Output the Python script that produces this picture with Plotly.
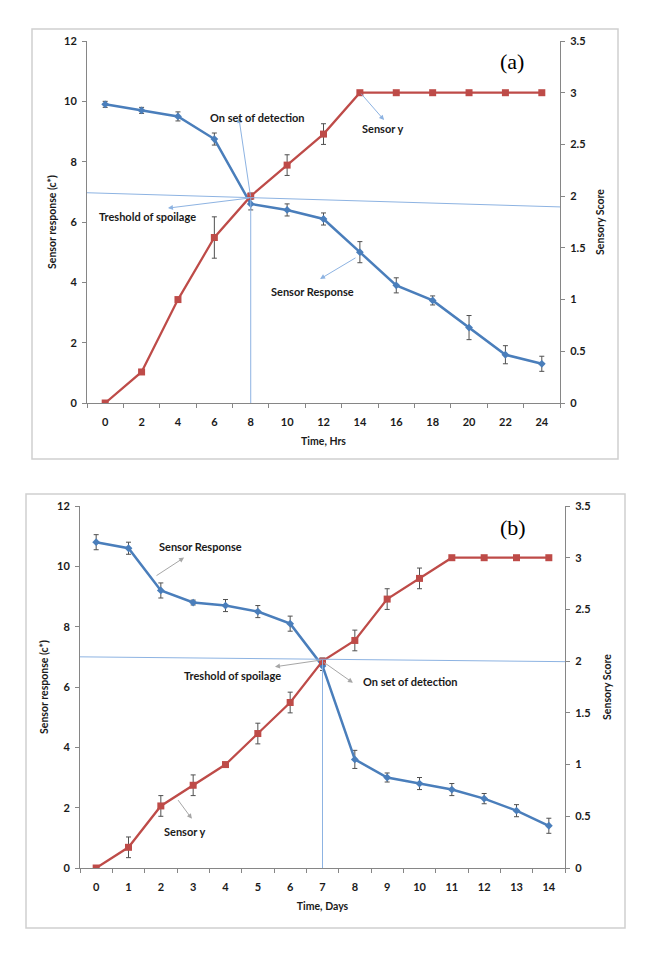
import plotly.graph_objects as go

# ---------------- data ----------------
hours = [0, 2, 4, 6, 8, 10, 12, 14, 16, 18, 20, 22, 24]
resp_a = [9.9, 9.7, 9.5, 8.75, 6.6, 6.4, 6.1, 5.0, 3.9, 3.4, 2.5, 1.6, 1.3]
resp_a_err = [0.1, 0.1, 0.15, 0.2, 0.2, 0.2, 0.2, 0.35, 0.25, 0.15, 0.4, 0.3, 0.25]
score_a = [0, 0.3, 1.0, 1.6, 2.0, 2.3, 2.6, 3.0, 3.0, 3.0, 3.0, 3.0, 3.0]
score_a_err = [0, 0, 0, 0.2, 0.03, 0.1, 0.1, 0, 0, 0, 0, 0, 0]

days = list(range(15))
resp_b = [10.8, 10.6, 9.2, 8.8, 8.7, 8.5, 8.1, 6.7, 3.6, 3.0, 2.8, 2.6, 2.3, 1.9, 1.4]
resp_b_err = [0.25, 0.2, 0.25, 0.08, 0.2, 0.2, 0.25, 0.15, 0.3, 0.15, 0.2, 0.2, 0.17, 0.2, 0.25]
score_b = [0, 0.2, 0.6, 0.8, 1.0, 1.3, 1.6, 2.0, 2.2, 2.6, 2.8, 3.0, 3.0, 3.0, 3.0]
score_b_err = [0, 0.1, 0.1, 0.1, 0, 0.1, 0.1, 0.03, 0.1, 0.1, 0.1, 0, 0, 0, 0]

# threshold guide lines (x from, x to, y from, y to in sensor-response units)
thr_a = [-1, 25, 6.97, 6.5]
thr_b = [-0.5, 14.5, 7.0, 6.84]
onset_a = [8, 6.8]
onset_b = [7, 6.9]

BLUE = "#4A7EBB"
RED = "#BE4B48"
ERR = "#505050"
GRID = "#868686"
FONT = "Lato"

fig = go.Figure()

def add_pair(x, resp, resp_err, score, score_err, xa, ya_l, ya_r):
    fig.add_trace(go.Scatter(
        x=x, y=resp, xaxis=xa, yaxis=ya_l, mode="lines+markers",
        line=dict(color=BLUE, width=2.5),
        marker=dict(symbol="diamond", size=6, color=BLUE),
        error_y=dict(type="data", array=resp_err, color=ERR, thickness=1, width=2.5),
        showlegend=False))
    fig.add_trace(go.Scatter(
        x=x, y=score, xaxis=xa, yaxis=ya_r, mode="lines+markers",
        line=dict(color=RED, width=2.25),
        marker=dict(symbol="square", size=7, color=RED),
        error_y=dict(type="data", array=score_err, color=ERR, thickness=1, width=2.5),
        showlegend=False))

add_pair(hours, resp_a, resp_a_err, score_a, score_a_err, "x", "y", "y2")
add_pair(days, resp_b, resp_b_err, score_b, score_b_err, "x2", "y3", "y4")

W, H = 650, 960
def dx(a, b):
    return [a / W, b / W]
def dy(top, bot):
    return [(H - bot) / H, (H - top) / H]

tickfont = dict(family=FONT, size=11, color="#1a1a1a", weight="bold")
titlefont = dict(family=FONT, size=10.5, color="#1a1a1a", weight="bold")

def xaxis_def(dom, anchor, vals, rng, title, bounds):
    return dict(domain=dom, anchor=anchor, range=rng, tickvals=vals,
                ticktext=[str(v) for v in vals], ticks="", showgrid=False,
                zeroline=False, showline=True, linecolor=GRID, linewidth=1,
                tickfont=tickfont, ticklabelstandoff=9, automargin=False,
                minor=dict(tickvals=bounds, ticks="outside", ticklen=4,
                           tickcolor=GRID, showgrid=False),
                title=dict(text=title, font=titlefont, standoff=10))

def yaxis_def(dom, anchor, rng, dtick, title, side="left", overlay=None, standoff=10):
    d = dict(domain=dom, anchor=anchor, range=rng, dtick=dtick, ticks="outside",
             ticklen=4, tickcolor=GRID, showgrid=False, zeroline=False,
             showline=True, linecolor=GRID, linewidth=1, side=side,
             tickfont=tickfont, ticklabelstandoff=3, automargin=False,
             title=dict(text=title, font=titlefont, standoff=standoff))
    if overlay:
        d["overlaying"] = overlay
    return d

bounds_a = [h - 1 for h in hours] + [hours[-1] + 1]
bounds_b = [d - 0.5 for d in days] + [days[-1] + 0.5]

fig.update_layout(
    width=W, height=H, margin=dict(l=0, r=0, t=0, b=0, autoexpand=False),
    paper_bgcolor="white", plot_bgcolor="white",
    font=dict(family=FONT),
    xaxis=xaxis_def(dx(87, 560), "y", hours, [-1, 25], "Time, Hrs", bounds_a),
    yaxis=yaxis_def(dy(41, 403), "x", [0, 12], 2, "Sensor response (c*)", standoff=5),
    yaxis2=yaxis_def(dy(41, 403), "x", [0, 3.5], 0.5, "Sensory Score", "right", "y", standoff=12),
    xaxis2=xaxis_def(dx(80, 565), "y3", days, [-0.5, 14.5], "Time, Days", bounds_b),
    yaxis3=yaxis_def(dy(506, 868), "x2", [0, 12], 2, "Sensor response (c*)", standoff=6),
    yaxis4=yaxis_def(dy(506, 868), "x2", [0, 3.5], 0.5, "Sensory Score", "right", "y3", standoff=14),
)

# outer frames
for (x0, y0, x1, y1) in [(32, 29, 618, 459), (26, 494, 625, 928)]:
    fig.add_shape(type="rect", xref="paper", yref="paper",
                  x0=x0 / W, x1=x1 / W, y0=(H - y1) / H, y1=(H - y0) / H,
                  line=dict(color="#D0D0D0", width=1.5))

# guide lines
GUIDE = "#8DB3E2"
fig.add_shape(type="line", xref="x", yref="y", x0=thr_a[0], x1=thr_a[1],
              y0=thr_a[2], y1=thr_a[3], line=dict(color=GUIDE, width=1))
fig.add_shape(type="line", xref="x", yref="y", x0=onset_a[0], x1=onset_a[0],
              y0=0, y1=onset_a[1], line=dict(color=GUIDE, width=1))
fig.add_shape(type="line", xref="x2", yref="y3", x0=thr_b[0], x1=thr_b[1],
              y0=thr_b[2], y1=thr_b[3], line=dict(color=GUIDE, width=1))
fig.add_shape(type="line", xref="x2", yref="y3", x0=onset_b[0], x1=onset_b[0],
              y0=0, y1=onset_b[1], line=dict(color=GUIDE, width=1))

labfont = dict(family=FONT, size=11, color="#1a1a1a", weight="bold")

def arrow(xr, yr, x0, y0, x1, y1, color):
    fig.add_annotation(xref=xr, yref=yr, axref=xr, ayref=yr, x=x1, y=y1,
                       ax=x0, ay=y0, text="", showarrow=True, arrowhead=2,
                       arrowsize=1, arrowwidth=1, arrowcolor=color)

def label(xr, yr, x, y, txt):
    fig.add_annotation(xref=xr, yref=yr, x=x, y=y, text=txt,
                       xanchor="center", yanchor="middle",
                       showarrow=False, font=labfont)

ARA = "#8DB3E2"
ARB = "#A6A6A6"
# chart (a)
arrow("x", "y", 8, 6.8, 7.35, 9.45, ARA)
label("x", "y", 8.37, 9.48, "On set of detection")
arrow("x", "y", 8, 6.8, 3.45, 6.46, ARA)
label("x", "y", 2.35, 6.17, "Treshold of spoilage")
arrow("x", "y", 14, 10.3, 15.33, 9.38, ARA)
label("x", "y", 15.27, 9.11, "Sensor y")
arrow("x", "y", 13.84, 4.84, 11.81, 4.11, ARA)
label("x", "y", 11.42, 3.71, "Sensor Response")
# chart (b)
arrow("x2", "y3", 1.82, 9.66, 2.72, 10.29, ARB)
label("x2", "y3", 3.23, 10.65, "Sensor Response")
arrow("x2", "y3", 7, 6.9, 5.53, 6.67, ARB)
label("x2", "y3", 4.22, 6.37, "Treshold of spoilage")
arrow("x2", "y3", 7, 6.85, 7.94, 6.14, ARB)
label("x2", "y3", 9.71, 6.18, "On set of detection")
arrow("x2", "y3", 2.5, 2.3, 2.96, 1.63, ARB)
label("x2", "y3", 2.76, 1.2, "Sensor y")

# panel letters
fig.add_annotation(xref="paper", yref="paper", x=512 / W, y=(H - 62) / H,
                   xanchor="center", yanchor="middle",
                   text="(a)", showarrow=False,
                   font=dict(family="Liberation Serif", size=22, color="black"))
fig.add_annotation(xref="paper", yref="paper", x=513 / W, y=(H - 527) / H,
                   xanchor="center", yanchor="middle",
                   text="(b)", showarrow=False,
                   font=dict(family="Liberation Serif", size=22, color="black"))

fig.write_html("out.html")
